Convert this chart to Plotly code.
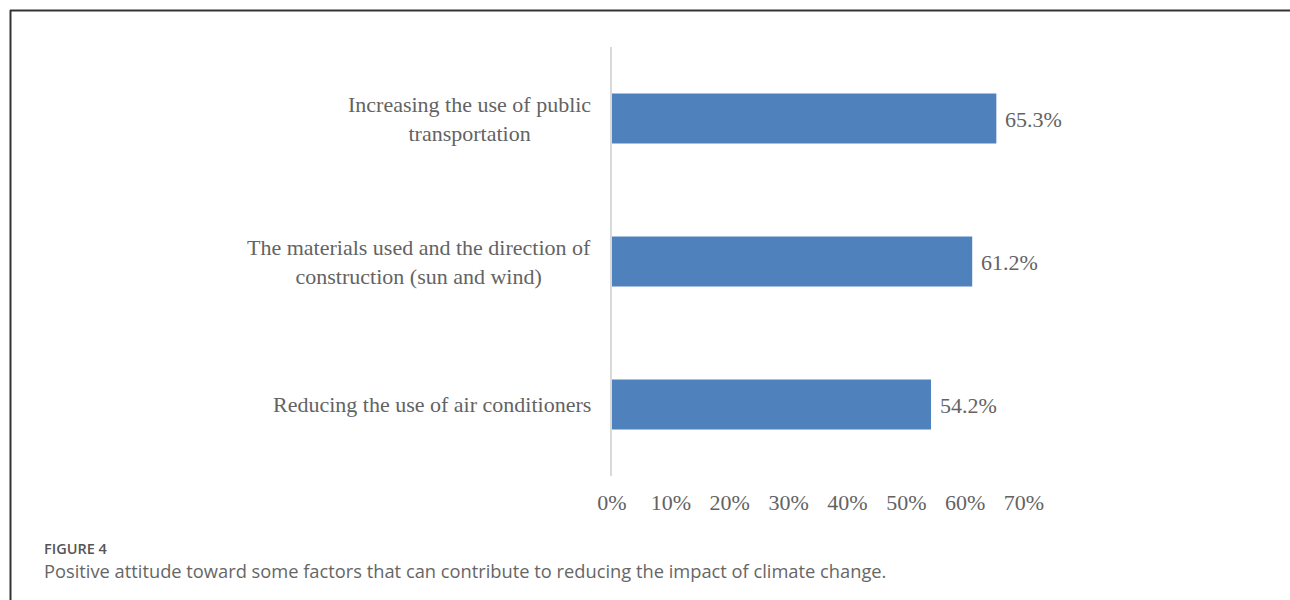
import plotly.graph_objects as go

categories = [
    "Increasing the use of public<br>transportation",
    "The materials used and the direction of<br>construction (sun and wind)",
    "Reducing the use of air conditioners",
]
values = [0.653, 0.612, 0.542]
value_labels = ["65.3%", "61.2%", "54.2%"]
tick_vals = [0, 0.1, 0.2, 0.3, 0.4, 0.5, 0.6, 0.7]
tick_text = ["0%", "10%", "20%", "30%", "40%", "50%", "60%", "70%"]

W, H = 1290, 600
L, R, T, B = 612, 266, 47, 124
pw, ph = W - L - R, H - T - B

def px_x(p):
    return (p - L) / pw

def px_y(p):
    return (H - B - p) / ph

serif = "Liberation Serif"
gray = "#636363"

fig = go.Figure()
fig.add_trace(go.Bar(
    x=values, y=categories, orientation="h",
    marker=dict(color="#4f81bd", line=dict(width=0)),
    width=0.35,
    hoverinfo="x+y",
))

annotations = []
for c in categories:
    annotations.append(dict(
        x=px_x(593), xref="paper", y=c, yref="y",
        text=c, showarrow=False, xanchor="right", yanchor="middle",
        align="center", font=dict(family=serif, size=22, color=gray),
    ))
for c, v, t in zip(categories, values, value_labels):
    annotations.append(dict(
        x=v, xref="x", y=c, yref="y", text=t, showarrow=False,
        xanchor="left", yanchor="middle", xshift=7, yshift=-1,
        font=dict(family=serif, size=22, color=gray),
    ))
annotations.append(dict(
    x=px_x(42), xref="paper", y=px_y(548), yref="paper",
    text="FIGURE 4", showarrow=False, xanchor="left", yanchor="middle",
    font=dict(family="Open Sans", size=14.5, color="#555555", weight=600),
))
annotations.append(dict(
    x=px_x(42), xref="paper", y=px_y(570), yref="paper",
    text="Positive attitude toward some factors that can contribute to reducing the impact of climate change.",
    showarrow=False, xanchor="left", yanchor="middle",
    font=dict(family="Open Sans", size=18.3, color="#666666"),
))

shapes = [
    dict(type="line", xref="paper", yref="paper",
         x0=px_x(10), x1=px_x(1295), y0=px_y(10.5), y1=px_y(10.5),
         line=dict(color="#333333", width=2)),
    dict(type="line", xref="paper", yref="paper",
         x0=px_x(10.5), x1=px_x(10.5), y0=px_y(10), y1=px_y(605),
         line=dict(color="#333333", width=2)),
]

fig.update_layout(
    width=W, height=H,
    margin=dict(l=L, r=R, t=T, b=B),
    paper_bgcolor="white", plot_bgcolor="white",
    showlegend=False,
    xaxis=dict(range=[0, 0.7], tickvals=tick_vals, ticktext=tick_text,
               showgrid=False, zeroline=False, showline=False,
               tickfont=dict(family=serif, size=22, color=gray),
               ticks="outside", ticklen=7, tickcolor="rgba(0,0,0,0)"),
    yaxis=dict(autorange="reversed", showticklabels=False, showgrid=False,
               showline=True, linecolor="#d9d9d9", linewidth=1.5, zeroline=False),
    annotations=annotations,
    shapes=shapes,
)

fig.write_html("out.html", config={"displayModeBar": False},
               post_script="document.body.style.margin='0';document.body.style.overflow='hidden';")
